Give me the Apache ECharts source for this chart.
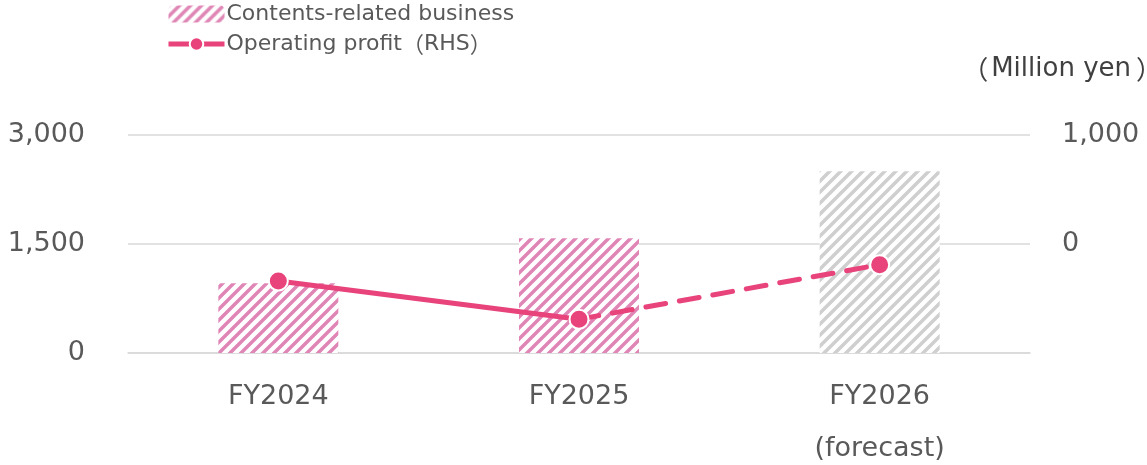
<!DOCTYPE html>
<html>
<head>
<meta charset="utf-8">
<script src="https://cdn.jsdelivr.net/npm/echarts@6/dist/echarts.min.js"></script>
<style>
html,body{margin:0;padding:0;background:#fff;}
#chart{width:1147px;height:465px;}
</style>
</head>
<body>
<div id="chart"></div>
<script>
// ---- data ----
const categories = ['FY2024', 'FY2025', 'FY2026\n(forecast)'];
const contentsBusiness = [960, 1580, 2500];     // left axis, million yen
const operatingProfit = [-340, -690, -190];     // right axis, million yen
const forecastIndex = 2;                        // FY2026 is a forecast
const seriesNames = ['Contents-related business', 'Operating profit\uFF08RHS\uFF09'];
const unitLabel = '\uFF08Million yen\uFF09';

// ---- styles ----
const FONT = '"DejaVu Sans", "Noto Sans CJK JP", sans-serif';
const CJK = '"Noto Sans CJK JP", sans-serif';
const TEXT = '#595959';
const PINK_HATCH = '#e086b6';
const GREY_HATCH = '#cfcfcf';
const LINE = '#e8437a';

function hatch(color) {
  const s = 11;
  const c = document.createElement('canvas');
  c.width = s; c.height = s;
  const g = c.getContext('2d');
  g.fillStyle = '#fff';
  g.fillRect(0, 0, s, s);
  g.strokeStyle = color;
  g.lineWidth = 3.5;
  g.beginPath();
  for (let k = -1; k <= 1; k++) {
    g.moveTo(-2 + k * s, s + 2);
    g.lineTo(s + 2 + k * s, -2);
  }
  g.stroke();
  return { image: c, repeat: 'repeat' };
}
const pinkPattern = hatch(PINK_HATCH);
const greyPattern = hatch(GREY_HATCH);

// wrap full-width parentheses so they are drawn with the CJK font
function cjkParens(s) {
  return s.replace(/\uFF08/g, '{po|\uFF08}').replace(/\uFF09/g, '{pc|\uFF09}');
}

const barData = contentsBusiness.map((v, i) => ({
  value: v,
  itemStyle: { color: i === forecastIndex ? greyPattern : pinkPattern }
}));
const solidData = operatingProfit.map((v, i) => (i < forecastIndex ? v : '-'));
const dashedData = operatingProfit.map((v, i) => {
  if (i === forecastIndex - 1) return { value: v, symbolSize: 0 };
  if (i >= forecastIndex) return v;
  return '-';
});

const chart = echarts.init(document.getElementById('chart'));
chart.setOption({
  animation: false,
  textStyle: { fontFamily: FONT },
  title: {
    text: cjkParens(unitLabel),
    right: -15, top: 56, padding: 0,
    textStyle: {
      fontFamily: FONT, fontSize: 26, fontWeight: 'normal', color: '#404040',
      rich: {
        po: { fontFamily: CJK, fontSize: 26, color: '#404040', padding: [0, 3, 0, 0] },
        pc: { fontFamily: CJK, fontSize: 26, color: '#404040', padding: [0, 0, 0, 5] }
      }
    }
  },
  legend: {
    data: seriesNames,
    orient: 'vertical',
    left: 166, top: 0, padding: [3, 0, 0, 0],
    itemWidth: 56, itemHeight: 17, itemGap: 8,
    lineStyle: { width: 5, type: 'solid', cap: 'butt' },
    formatter: name => cjkParens(name),
    textStyle: {
      fontFamily: FONT, fontSize: 22, color: TEXT, padding: [0, 0, 0, -3],
      rich: {
        po: { fontFamily: CJK, fontSize: 22, color: TEXT },
        pc: { fontFamily: CJK, fontSize: 22, color: TEXT }
      }
    }
  },
  grid: { left: 128, right: 117, top: 135, bottom: 112, containLabel: false, outerBoundsMode: 'none' },
  xAxis: {
    type: 'category',
    data: categories,
    axisLine: { lineStyle: { color: '#d9d9d9', width: 1.5 } },
    axisTick: { show: false },
    axisLabel: { fontFamily: FONT, fontSize: 27, color: TEXT, margin: 18, lineHeight: 52 }
  },
  yAxis: [
    {
      type: 'value', min: 0, max: 3000, interval: 1500,
      axisLine: { show: false }, axisTick: { show: false },
      splitLine: { lineStyle: { color: '#d9d9d9', width: 1.5 } },
      axisLabel: {
        fontFamily: FONT, fontSize: 27, color: TEXT, margin: 43,
        formatter: v => v.toLocaleString('en-US')
      }
    },
    {
      type: 'value', min: -1000, max: 1000, interval: 1000,
      axisLine: { show: false }, axisTick: { show: false },
      splitLine: { show: false },
      axisLabel: {
        fontFamily: FONT, fontSize: 27, color: TEXT, margin: 32,
        formatter: v => (v < 0 ? '' : v.toLocaleString('en-US'))
      }
    }
  ],
  series: [
    {
      name: seriesNames[0], type: 'bar', yAxisIndex: 0,
      barWidth: 120,
      itemStyle: { color: pinkPattern },
      data: barData
    },
    {
      name: seriesNames[1], type: 'line', yAxisIndex: 1,
      symbol: 'circle', symbolSize: 19, z: 5,
      itemStyle: { color: LINE, borderColor: '#fff', borderWidth: 2 },
      lineStyle: { color: LINE, width: 5 },
      data: solidData
    },
    {
      name: 'Operating profit forecast', type: 'line', yAxisIndex: 1,
      symbol: 'circle', symbolSize: 19, z: 4,
      itemStyle: { color: LINE, borderColor: '#fff', borderWidth: 2 },
      lineStyle: { color: LINE, width: 5, type: [20, 14], cap: 'round' },
      data: dashedData
    }
  ]
});
</script>
</body>
</html>
